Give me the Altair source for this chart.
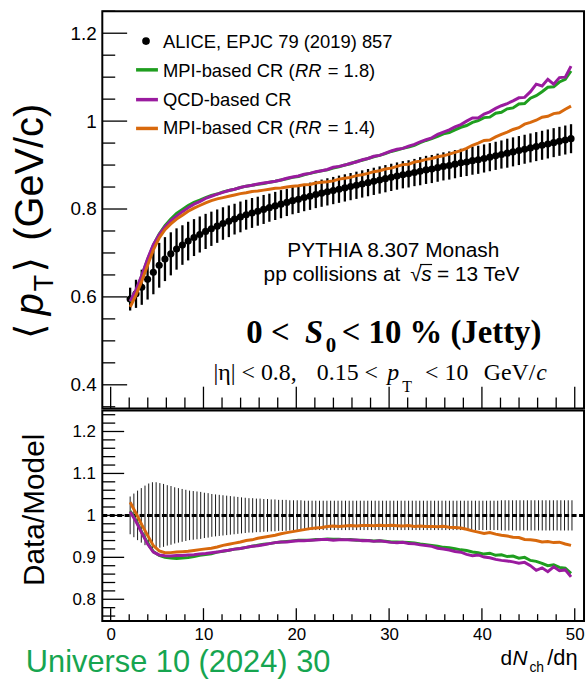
import altair as alt
import pandas as pd

# ---- ALICE <pT> vs dNch/deta, 0-10% S0 (jetty) ----
x_data = [2.1, 2.73, 3.35, 3.98, 4.6, 5.23, 5.85, 6.48, 7.1, 7.73, 8.35, 8.98, 9.6,
          10.23, 10.85, 11.48, 12.1, 12.73, 13.35, 13.98, 14.6, 15.23, 15.85, 16.48,
          17.1, 17.73, 18.35, 18.98, 19.6, 20.23, 20.85, 21.48, 22.1, 22.73, 23.35,
          23.98, 24.6, 25.23, 25.85, 26.48, 27.1, 27.73, 28.35, 28.98, 29.6, 30.23,
          30.85, 31.48, 32.1, 32.73, 33.35, 33.98, 34.6, 35.23, 35.85, 36.48, 37.1,
          37.73, 38.35, 38.98, 39.6, 40.23, 40.85, 41.48, 42.1, 42.73, 43.35, 43.98,
          44.6, 45.23, 45.85, 46.48, 47.1, 47.73, 48.35, 48.98, 49.6]

alice_mean = [0.595, 0.607, 0.622, 0.640, 0.656, 0.672, 0.686, 0.698, 0.709, 0.718,
              0.727, 0.735, 0.742, 0.749, 0.755, 0.761, 0.767, 0.772, 0.777, 0.782,
              0.787, 0.791, 0.795, 0.799, 0.803, 0.807, 0.811, 0.815, 0.819, 0.822,
              0.826, 0.829, 0.833, 0.836, 0.839, 0.842, 0.845, 0.848, 0.851, 0.854,
              0.857, 0.860, 0.863, 0.866, 0.869, 0.872, 0.875, 0.878, 0.880, 0.883,
              0.886, 0.889, 0.891, 0.894, 0.897, 0.899, 0.902, 0.905, 0.907, 0.910,
              0.912, 0.915, 0.918, 0.921, 0.924, 0.927, 0.930, 0.933, 0.936, 0.939,
              0.942, 0.945, 0.948, 0.951, 0.954, 0.957, 0.960]

alice_err = [0.026, 0.032, 0.040, 0.046, 0.050, 0.051, 0.050, 0.049, 0.047, 0.045,
             0.044, 0.042, 0.041, 0.040, 0.039, 0.038, 0.037, 0.036, 0.035, 0.035,
             0.034, 0.034, 0.033, 0.033, 0.032, 0.032, 0.032, 0.031, 0.031, 0.031,
             0.031, 0.031, 0.031, 0.031, 0.031, 0.031, 0.031, 0.031, 0.031, 0.031,
             0.031, 0.031, 0.031, 0.031, 0.031, 0.031, 0.031, 0.031, 0.031, 0.031,
             0.032, 0.032, 0.032, 0.032, 0.032, 0.032, 0.032, 0.032, 0.032, 0.032,
             0.032, 0.032, 0.032, 0.032, 0.032, 0.033, 0.033, 0.033, 0.033, 0.033,
             0.033, 0.033, 0.033, 0.033, 0.033, 0.033, 0.033]

# PYTHIA 8.307 Monash predictions at the same dNch/deta
mpi_rr18 = [0.589, 0.614, 0.648, 0.685, 0.718, 0.743, 0.762, 0.777, 0.790, 0.799,
            0.808, 0.815, 0.820, 0.826, 0.831, 0.834, 0.839, 0.842, 0.845, 0.849,
            0.852, 0.854, 0.856, 0.858, 0.861, 0.863, 0.866, 0.869, 0.872, 0.874,
            0.878, 0.881, 0.884, 0.887, 0.889, 0.893, 0.896, 0.900, 0.903, 0.908,
            0.911, 0.915, 0.919, 0.922, 0.926, 0.931, 0.934, 0.938, 0.941, 0.945,
            0.951, 0.956, 0.960, 0.965, 0.971, 0.974, 0.980, 0.986, 0.990, 0.997,
            1.001, 1.008, 1.009, 1.018, 1.020, 1.028, 1.030, 1.039, 1.040, 1.052,
            1.058, 1.067, 1.077, 1.078, 1.089, 1.095, 1.114]

qcd_cr = [0.590, 0.616, 0.649, 0.687, 0.719, 0.742, 0.759, 0.773, 0.784, 0.794,
          0.803, 0.811, 0.817, 0.824, 0.829, 0.834, 0.838, 0.842, 0.845, 0.849,
          0.852, 0.854, 0.857, 0.859, 0.861, 0.863, 0.866, 0.870, 0.873, 0.875,
          0.879, 0.881, 0.885, 0.887, 0.890, 0.895, 0.897, 0.900, 0.904, 0.907,
          0.912, 0.915, 0.920, 0.922, 0.927, 0.932, 0.936, 0.938, 0.943, 0.947,
          0.953, 0.958, 0.962, 0.970, 0.975, 0.980, 0.987, 0.992, 1.000, 1.007,
          1.007, 1.016, 1.021, 1.029, 1.035, 1.040, 1.046, 1.053, 1.054, 1.067,
          1.084, 1.080, 1.095, 1.084, 1.099, 1.100, 1.125]

mpi_rr14 = [0.577, 0.604, 0.636, 0.672, 0.707, 0.734, 0.753, 0.766, 0.777, 0.786,
            0.795, 0.802, 0.808, 0.814, 0.819, 0.823, 0.826, 0.829, 0.832, 0.835,
            0.837, 0.840, 0.841, 0.843, 0.845, 0.847, 0.848, 0.850, 0.852, 0.853,
            0.855, 0.856, 0.859, 0.861, 0.862, 0.864, 0.868, 0.870, 0.872, 0.876,
            0.878, 0.881, 0.885, 0.887, 0.891, 0.893, 0.897, 0.901, 0.902, 0.907,
            0.909, 0.913, 0.915, 0.919, 0.921, 0.925, 0.929, 0.933, 0.938, 0.945,
            0.950, 0.956, 0.957, 0.964, 0.970, 0.975, 0.981, 0.985, 0.993, 0.997,
            1.002, 1.009, 1.011, 1.017, 1.019, 1.027, 1.034]

# relative data uncertainty shown around unity in the ratio panel
x_ratio = [2.1, 2.5, 2.9, 3.3, 3.7, 4.1, 4.5, 4.9, 5.3, 5.7,
           6.1, 6.5, 6.9, 7.3, 7.7, 8.1, 8.5, 8.9, 9.3, 9.7,
           10.1, 10.5, 10.9, 11.3, 11.7, 12.1, 12.5, 12.9, 13.3, 13.7,
           14.1, 14.5, 14.9, 15.3, 15.7, 16.1, 16.5, 16.9, 17.3, 17.7,
           18.1, 18.5, 18.9, 19.3, 19.7, 20.1, 20.5, 20.9, 21.3, 21.7,
           22.1, 22.5, 22.9, 23.3, 23.7, 24.1, 24.5, 24.9, 25.3, 25.7,
           26.1, 26.5, 26.9, 27.3, 27.7, 28.1, 28.5, 28.9, 29.3, 29.7,
           30.1, 30.5, 30.9, 31.3, 31.7, 32.1, 32.5, 32.9, 33.3, 33.7,
           34.1, 34.5, 34.9, 35.3, 35.7, 36.1, 36.5, 36.9, 37.3, 37.7,
           38.1, 38.5, 38.9, 39.3, 39.7, 40.1, 40.5, 40.9, 41.3, 41.7,
           42.1, 42.5, 42.9, 43.3, 43.7, 44.1, 44.5, 44.9, 45.3, 45.7,
           46.1, 46.5, 46.9, 47.3, 47.7, 48.1, 48.5, 48.9, 49.3, 49.7]

ratio_err = [0.045, 0.052, 0.059, 0.065, 0.071, 0.076, 0.079, 0.079, 0.077, 0.075,
             0.072, 0.070, 0.067, 0.065, 0.063, 0.061, 0.059, 0.058, 0.057, 0.056,
             0.054, 0.053, 0.051, 0.050, 0.049, 0.048, 0.047, 0.046, 0.045, 0.044,
             0.043, 0.042, 0.041, 0.041, 0.040, 0.040, 0.039, 0.039, 0.038, 0.038,
             0.037, 0.037, 0.037, 0.036, 0.036, 0.036, 0.036, 0.035, 0.035, 0.035,
             0.035, 0.035, 0.035, 0.035, 0.035, 0.035, 0.035, 0.035, 0.035, 0.035,
             0.035, 0.035, 0.035, 0.035, 0.035, 0.035, 0.035, 0.035, 0.035, 0.035,
             0.035, 0.035, 0.035, 0.035, 0.035, 0.035, 0.035, 0.035, 0.035, 0.035,
             0.035, 0.035, 0.035, 0.035, 0.035, 0.035, 0.035, 0.035, 0.035, 0.035,
             0.035, 0.035, 0.035, 0.035, 0.035, 0.035, 0.035, 0.035, 0.035, 0.035,
             0.036, 0.036, 0.036, 0.036, 0.036, 0.036, 0.036, 0.036, 0.036, 0.036,
             0.036, 0.036, 0.036, 0.036, 0.036, 0.036, 0.036, 0.036, 0.036, 0.036]

model_names = ["MPI-based CR (RR = 1.8)", "QCD-based CR", "MPI-based CR (RR = 1.4)"]
model_colors = ["#1f9e1f", "#9a1b9f", "#d8690d"]

# tick positions (drawn inside the frame)
top_y_major = [0.4, 0.6, 0.8, 1.0, 1.2]
top_y_minor = [0.35, 0.45, 0.5, 0.55, 0.65, 0.7, 0.75, 0.85, 0.9, 0.95, 1.05, 1.1, 1.15, 1.25]
low_y_major = [0.8, 0.9, 1.0, 1.1, 1.2]
low_y_minor = [0.76, 0.78, 0.82, 0.84, 0.86, 0.88, 0.92, 0.94, 0.96, 0.98, 1.02, 1.04,
               1.06, 1.08, 1.12, 1.14, 1.16, 1.18, 1.22, 1.24]
x_major = [0, 10, 20, 30, 40, 50]
x_minor = [2, 4, 6, 8, 12, 14, 16, 18, 22, 24, 26, 28, 32, 34, 36, 38, 42, 44, 46, 48]

SANS = "Liberation Sans"
SERIF = "Liberation Serif"
W, H_TOP, H_LOW = 485, 400, 212

xs = alt.Scale(domain=[-0.9, 51], nice=False, zero=False)
ys_top = alt.Scale(domain=[0.346, 1.25], nice=False, zero=False)
ys_low = alt.Scale(domain=[0.748, 1.25], nice=False, zero=False)
col_scale = alt.Scale(domain=model_names, range=model_colors)

ax_y_top = alt.Axis(values=top_y_major, format="~g", ticks=False, domain=False, grid=False,
                    labelFont=SANS, labelFontSize=19, labelColor="#000", labelPadding=6,
                    title=None)
ax_y_low = alt.Axis(values=low_y_major, format="~g", ticks=False, domain=False, grid=False,
                    labelFont=SANS, labelFontSize=17, labelColor="#000", labelPadding=7,
                    title=None)
ax_x_low = alt.Axis(values=x_major, format="d", ticks=False, domain=False, grid=False,
                    labelFont=SANS, labelFontSize=17, labelColor="#000", labelPadding=6,
                    title=None)

df = pd.DataFrame({"x": x_data, "mean": alice_mean, "err": alice_err,
                   model_names[0]: mpi_rr18, model_names[1]: qcd_cr, model_names[2]: mpi_rr14})
df["lo"] = df["mean"] - df["err"]
df["hi"] = df["mean"] + df["err"]

models = df.melt(id_vars=["x", "mean"], value_vars=model_names, var_name="model", value_name="pt")
models["ratio"] = models["mean"] / models["pt"]

band = pd.DataFrame({"x": x_ratio, "e": ratio_err})
band["lo"] = 1 - band["e"]
band["hi"] = 1 + band["e"]

one = pd.DataFrame({"k": [0]})


def txt(text, x, y, size, font=SANS, style="normal", weight="normal", align="left",
        angle=0, color="#000", baseline="alphabetic"):
    return alt.Chart(one).mark_text(
        text=text, font=font, fontSize=size, fontStyle=style, fontWeight=weight,
        align=align, angle=angle, color=color, baseline=baseline
    ).encode(x=alt.value(x), y=alt.value(y))


def yticks(vals, scale, axis, length):
    return alt.Chart(pd.DataFrame({"v": vals})).mark_rule(color="#000", strokeWidth=1.3).encode(
        y=alt.Y("v:Q", scale=scale, axis=axis), x=alt.value(0), x2=alt.value(length))


def xticks(vals, axis, height, length):
    return alt.Chart(pd.DataFrame({"v": vals})).mark_rule(color="#000", strokeWidth=1.3).encode(
        x=alt.X("v:Q", scale=xs, axis=axis), y=alt.value(height), y2=alt.value(height - length))


# ---------------- upper panel ----------------
bars = alt.Chart(df).mark_rule(color="#000", strokeWidth=2.3).encode(
    x=alt.X("x:Q", scale=xs, axis=None),
    y=alt.Y("lo:Q", scale=ys_top, axis=ax_y_top),
    y2="hi:Q")
dots = alt.Chart(df).mark_circle(color="#000", size=52, opacity=1).encode(
    x=alt.X("x:Q", scale=xs, axis=None),
    y=alt.Y("mean:Q", scale=ys_top, axis=ax_y_top))
curves = alt.Chart(models).mark_line(strokeWidth=3, clip=True).encode(
    x=alt.X("x:Q", scale=xs, axis=None),
    y=alt.Y("pt:Q", scale=ys_top, axis=ax_y_top),
    color=alt.Color("model:N", scale=col_scale, legend=None),
    order="x:Q")

top_layers = [
    yticks(top_y_major, ys_top, ax_y_top, 25),
    yticks(top_y_minor, ys_top, ax_y_top, 13),
    xticks(x_major, None, H_TOP, 22),
    xticks(x_minor, None, H_TOP, 11),
    bars, dots,
]
for name in model_names:
    top_layers.append(curves.transform_filter(alt.datum.model == name))

# legend
top_layers.append(alt.Chart(one).mark_circle(color="#000", size=60, opacity=1).encode(
    x=alt.value(44), y=alt.value(30)))
top_layers.append(txt("ALICE, EPJC 79 (2019) 857", 61, 37, 18.5))
for yy, col in zip([59, 89, 118], model_colors):
    top_layers.append(alt.Chart(one).mark_rule(color=col, strokeWidth=3.5).encode(
        x=alt.value(34), x2=alt.value(56), y=alt.value(yy)))
top_layers += [
    txt("MPI-based CR (", 61, 66, 18.5),
    txt("RR", 194, 66, 18.5, style="italic"),
    txt("= 1.8)", 227, 66, 18.5),
    txt("QCD-based CR", 61, 95, 18.5),
    txt("MPI-based CR (", 61, 124, 18.5),
    txt("RR", 194, 124, 18.5, style="italic"),
    txt("= 1.4)", 227, 124, 18.5),
]

# annotations
top_layers += [
    txt("PYTHIA 8.307 Monash", 293, 247, 21, align="center"),
    txt("pp collisions at", 300, 272, 21, align="right"),
    txt("\u221a", 310, 272, 21),
    alt.Chart(one).mark_rule(color="#000", strokeWidth=1.2).encode(
        x=alt.value(320), x2=alt.value(332), y=alt.value(255)),
    txt("s", 321, 272, 21, style="italic"),
    txt("= 13 TeV", 337, 272, 21),
    txt("0 <", 145, 334, 33, font=SERIF, weight="bold"),
    txt("S", 204, 334, 33, font=SERIF, weight="bold", style="italic"),
    txt("0", 225, 343, 21, font=SERIF, weight="bold"),
    txt("< 10 % (Jetty)", 241, 334, 33, font=SERIF, weight="bold"),
    txt("|\u03b7| < 0.8,", 112, 371, 24, font=SERIF),
    txt("0.15 <", 216, 371, 24, font=SERIF),
    txt("p", 287, 371, 24, font=SERIF, style="italic"),
    txt("T", 302, 383, 16, font=SERIF),
    txt("< 10", 325, 371, 24, font=SERIF),
    txt("GeV/", 384, 371, 24, font=SERIF),
    txt("c", 437, 371, 24, font=SERIF, style="italic"),
]

# y title: <p_T> (GeV/c), written bottom to top
TX = -60
top_layers += [
    txt("\u27e8", TX, 330, 40, font="DejaVu Sans", angle=270),
    txt("p", TX, 306, 40, style="italic", angle=270),
    txt("T", TX + 10, 282, 27, angle=270),
    txt("\u27e9", TX, 263, 40, font="DejaVu Sans", angle=270),
    txt("(GeV/c)", TX, 231, 40, angle=270),
]

top = alt.layer(*top_layers).properties(width=W, height=H_TOP)

# ---------------- ratio panel ----------------
band_bars = alt.Chart(band).mark_rule(color="#1a1a1a", strokeWidth=1).encode(
    x=alt.X("x:Q", scale=xs, axis=ax_x_low),
    y=alt.Y("lo:Q", scale=ys_low, axis=ax_y_low),
    y2="hi:Q")
unity = alt.Chart(one).mark_rule(color="#000", strokeWidth=3, strokeDash=[5, 2.5]).encode(
    y=alt.Y("k:Q", scale=ys_low, axis=ax_y_low), x=alt.value(0), x2=alt.value(W)
).transform_calculate(k="1")
ratio_lines = alt.Chart(models).mark_line(strokeWidth=3, clip=True).encode(
    x=alt.X("x:Q", scale=xs, axis=ax_x_low),
    y=alt.Y("ratio:Q", scale=ys_low, axis=ax_y_low),
    color=alt.Color("model:N", scale=col_scale, legend=None),
    order="x:Q")

low_layers = [
    yticks(low_y_major, ys_low, ax_y_low, 22),
    yticks(low_y_minor, ys_low, ax_y_low, 13),
    xticks(x_major, ax_x_low, H_LOW, 13),
    xticks(x_minor, ax_x_low, H_LOW, 7),
    band_bars, unity,
]
for name in model_names:
    low_layers.append(ratio_lines.transform_filter(alt.datum.model == name))

low_layers += [
    txt("Data/Model", -59, 100, 30, angle=270, align="center"),
    txt("d", 401, 256, 21),
    txt("N", 413, 256, 21, style="italic"),
    txt("ch", 430, 263, 14),
    txt("/d\u03b7", 448, 256, 22),
    txt("Universe 10 (2024) 30", -77, 263, 31, color="#16a550"),
]

low = alt.layer(*low_layers).properties(width=W, height=H_LOW)

chart = alt.vconcat(top, low, spacing=-2).properties(
    padding={"left": 9, "top": 7, "right": 0, "bottom": 0}
).configure_view(stroke="#000", strokeWidth=2)

chart.save("out.html", embed_options={"renderer": "svg", "actions": False})
